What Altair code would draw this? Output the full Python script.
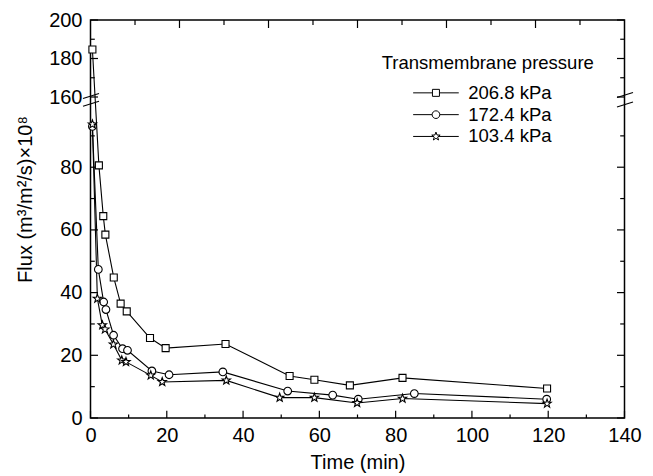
import math
import altair as alt
import pandas as pd

# ---------------- data ----------------
series_names = ["206.8 kPa", "172.4 kPa", "103.4 kPa"]

time_2068 = [0.5, 2.2, 3.35, 3.9, 6.1, 7.9, 9.5, 15.6, 19.7, 35.4, 52.2, 58.7, 68.0, 81.8, 119.7]
flux_2068 = [184.7, 80.6, 64.4, 58.5, 44.8, 36.5, 34.0, 25.5, 22.3, 23.6, 13.4, 12.2, 10.4, 12.8, 9.4]

time_1724 = [0.5, 2.05, 3.45, 4.05, 6.05, 8.4, 9.7, 16.1, 20.6, 34.7, 51.7, 63.5, 70.2, 84.9, 119.6]
flux_1724 = [93.0, 47.4, 37.0, 34.6, 26.4, 22.1, 21.6, 15.0, 13.8, 14.7, 8.6, 7.3, 6.0, 7.8, 6.0]

time_1034 = [0.5, 1.8, 3.1, 3.8, 6.0, 8.2, 9.3, 15.8, 18.8, 35.6, 49.6, 58.7, 69.9, 81.8, 119.7]
flux_1034 = [93.7, 38.1, 29.6, 28.3, 23.5, 18.4, 17.9, 13.6, 11.5, 12.0, 6.5, 6.5, 4.8, 6.2, 4.6]

x_labels = [0, 20, 40, 60, 80, 100, 120, 140]
x_minor = [10, 30, 50, 70, 90, 110, 130]
top_major = [23.33, 46.67, 70, 93.33, 116.67]
top_minor = [11.67, 35, 58.33, 81.67, 105, 128.33]
y_labels = [0, 20, 40, 60, 80, 160, 180, 200]
y_minor = [10, 30, 50, 70, 90, 170, 190]

# ---------------- tables ----------------
rows = []
for name, ts, fs in [(series_names[0], time_2068, flux_2068),
                     (series_names[1], time_1724, flux_1724),
                     (series_names[2], time_1034, flux_1034)]:
    for i, (t, f) in enumerate(zip(ts, fs)):
        rows.append({"series": name, "time": t, "flux": f, "idx": i})
df = pd.DataFrame(rows)

W, H = 534, 398
BREAK_PX = 77

xs = alt.Scale(domain=[0, 140], nice=False, zero=False)
ys = alt.Scale(domain=[0, 102.4, 160, 200], range=[H, BREAK_PX, BREAK_PX, 0], nice=False, zero=False)

# ---------------- symbol paths ----------------
def star_pts(R=1.1, r=0.45):
    pts = []
    for i in range(10):
        a = math.radians(-90 + 36 * i)
        rad = R if i % 2 == 0 else r
        pts.append((rad * math.cos(a), rad * math.sin(a)))
    return pts

def star_path():
    pts = star_pts()
    s = "M%.3f,%.3f" % pts[0]
    for p in pts[1:]:
        s += "L%.3f,%.3f" % p
    return s + "Z"

SQ = "M-0.875,-0.875H0.875V0.875H-0.875Z"
CI = "M0.96,0A0.96,0.96,0,1,1,-0.96,0A0.96,0.96,0,1,1,0.96,0Z"
ST = star_path()

LSQ = "M-5.7,0H-0.875M0.875,0H5.7" + SQ
LCI = "M-5.7,0H-0.96M0.96,0H5.7" + CI
LST = "M-5.7,0H-0.6M0.6,0H5.7" + ST

# ---------------- axes (same object on every layer so they merge) ----------------
x_axis = alt.Axis(values=x_labels, domain=False, ticks=False, tickSize=0, grid=False,
                  labelPadding=7.5, labelFontSize=20, labelColor="black", labelFlush=False,
                  labelOverlap=False, title="Time (min)", titleFontSize=20,
                  titleFontWeight="normal", titleColor="black", titleY=50.6,
                  titleBaseline="alphabetic")
y_axis = alt.Axis(values=y_labels, domain=False, ticks=False, tickSize=0, grid=False,
                  labelPadding=8.5, labelFontSize=20, labelColor="black", labelFlush=False,
                  labelOverlap=False, title="Flux (m³/m²/s)×10⁸", titleFontSize=20,
                  titleFontWeight="normal", titleColor="black", titleX=-59.5, titleY=179,
                  titleBaseline="alphabetic", titleAngle=270, titleAlign="center")

base = alt.Chart(df)

lines = base.mark_line(color="black", strokeWidth=1.1).encode(
    x=alt.X("time:Q", scale=xs, axis=x_axis),
    y=alt.Y("flux:Q", scale=ys, axis=y_axis),
    detail="series:N",
    order="idx:Q",
)

points = base.mark_point(filled=True, fill="white", stroke="black", strokeWidth=1.1,
                         size=64, opacity=1).encode(
    x=alt.X("time:Q", scale=xs, axis=x_axis),
    y=alt.Y("flux:Q", scale=ys, axis=y_axis),
    shape=alt.Shape("series:N", scale=alt.Scale(domain=series_names, range=[SQ, CI, ST]),
                    legend=None),
)

legend_layer = base.mark_point(opacity=0, size=64).encode(
    x=alt.X("time:Q", scale=xs, axis=x_axis),
    y=alt.Y("flux:Q", scale=ys, axis=y_axis),
    shape=alt.Shape("series:N", scale=alt.Scale(domain=series_names, range=[LSQ, LCI, LST]),
                    legend=alt.Legend(title="Transmembrane pressure", orient="none",
                                      legendX=291.2, legendY=33.6, padding=0,
                                      titleFontSize=18.5, titleFontWeight="normal",
                                      titleColor="black", titlePadding=11.5, titleLimit=400,
                                      labelFontSize=18.5, labelColor="black", labelLimit=300,
                                      symbolSize=64, symbolOffset=45, labelOffset=23,
                                      rowPadding=2.8, symbolFillColor="white",
                                      symbolStrokeColor="black", symbolStrokeWidth=1,
                                      symbolOpacity=1)),
)

# ---------------- inward ticks ----------------
def yticks(vals, at, length):
    d = pd.DataFrame({"v": vals})
    return alt.Chart(d).mark_rule(color="black", strokeWidth=1.2, x2Offset=length).encode(
        y=alt.Y("v:Q", scale=ys, axis=y_axis),
        x=alt.XDatum(at, scale=xs, axis=x_axis),
        x2=alt.X2Datum(at),
    )

def xticks(vals, at, length):
    d = pd.DataFrame({"v": vals})
    return alt.Chart(d).mark_rule(color="black", strokeWidth=1.2, y2Offset=length).encode(
        x=alt.X("v:Q", scale=xs, axis=x_axis),
        y=alt.YDatum(at, scale=ys, axis=y_axis),
        y2=alt.Y2Datum(at),
    )

tick_layers = [
    yticks(y_labels, 0, 7.5), yticks(y_minor, 0, 4.3),
    yticks(y_labels, 140, -7.5), yticks(y_minor, 140, -4.3),
    xticks(x_labels, 0, -7.3), xticks(x_minor, 0, -3.5),
    xticks(top_major, 200, 8), xticks(top_minor, 200, 5),
]

# ---------------- axis break marks ----------------
def slash(at, c):
    return alt.Chart(pd.DataFrame({"k": [0]})).mark_rule(
        color="black", strokeWidth=1.2,
        xOffset=-7.5, x2Offset=8.5, yOffset=c + 2.5, y2Offset=c - 2.5,
    ).encode(
        x=alt.XDatum(at, scale=xs, axis=x_axis),
        x2=alt.X2Datum(at),
        y=alt.YDatum(130, scale=ys, axis=y_axis),
        y2=alt.Y2Datum(130),
    )

breaks = [slash(0, -1), slash(0, 6.7), slash(140, -2), slash(140, 7.5)]

chart = alt.layer(lines, *tick_layers, *breaks, points, legend_layer).resolve_scale(
    shape="independent"
).properties(
    width=W, height=H,
    autosize=alt.AutoSizeParams(type="none"),
    padding={"left": 82.5, "top": 12, "right": 20, "bottom": 58},
).configure(font="Liberation Sans").configure_view(stroke="black", strokeWidth=1.5)

chart.save("out.html", embed_options={"renderer": "svg", "actions": False})
